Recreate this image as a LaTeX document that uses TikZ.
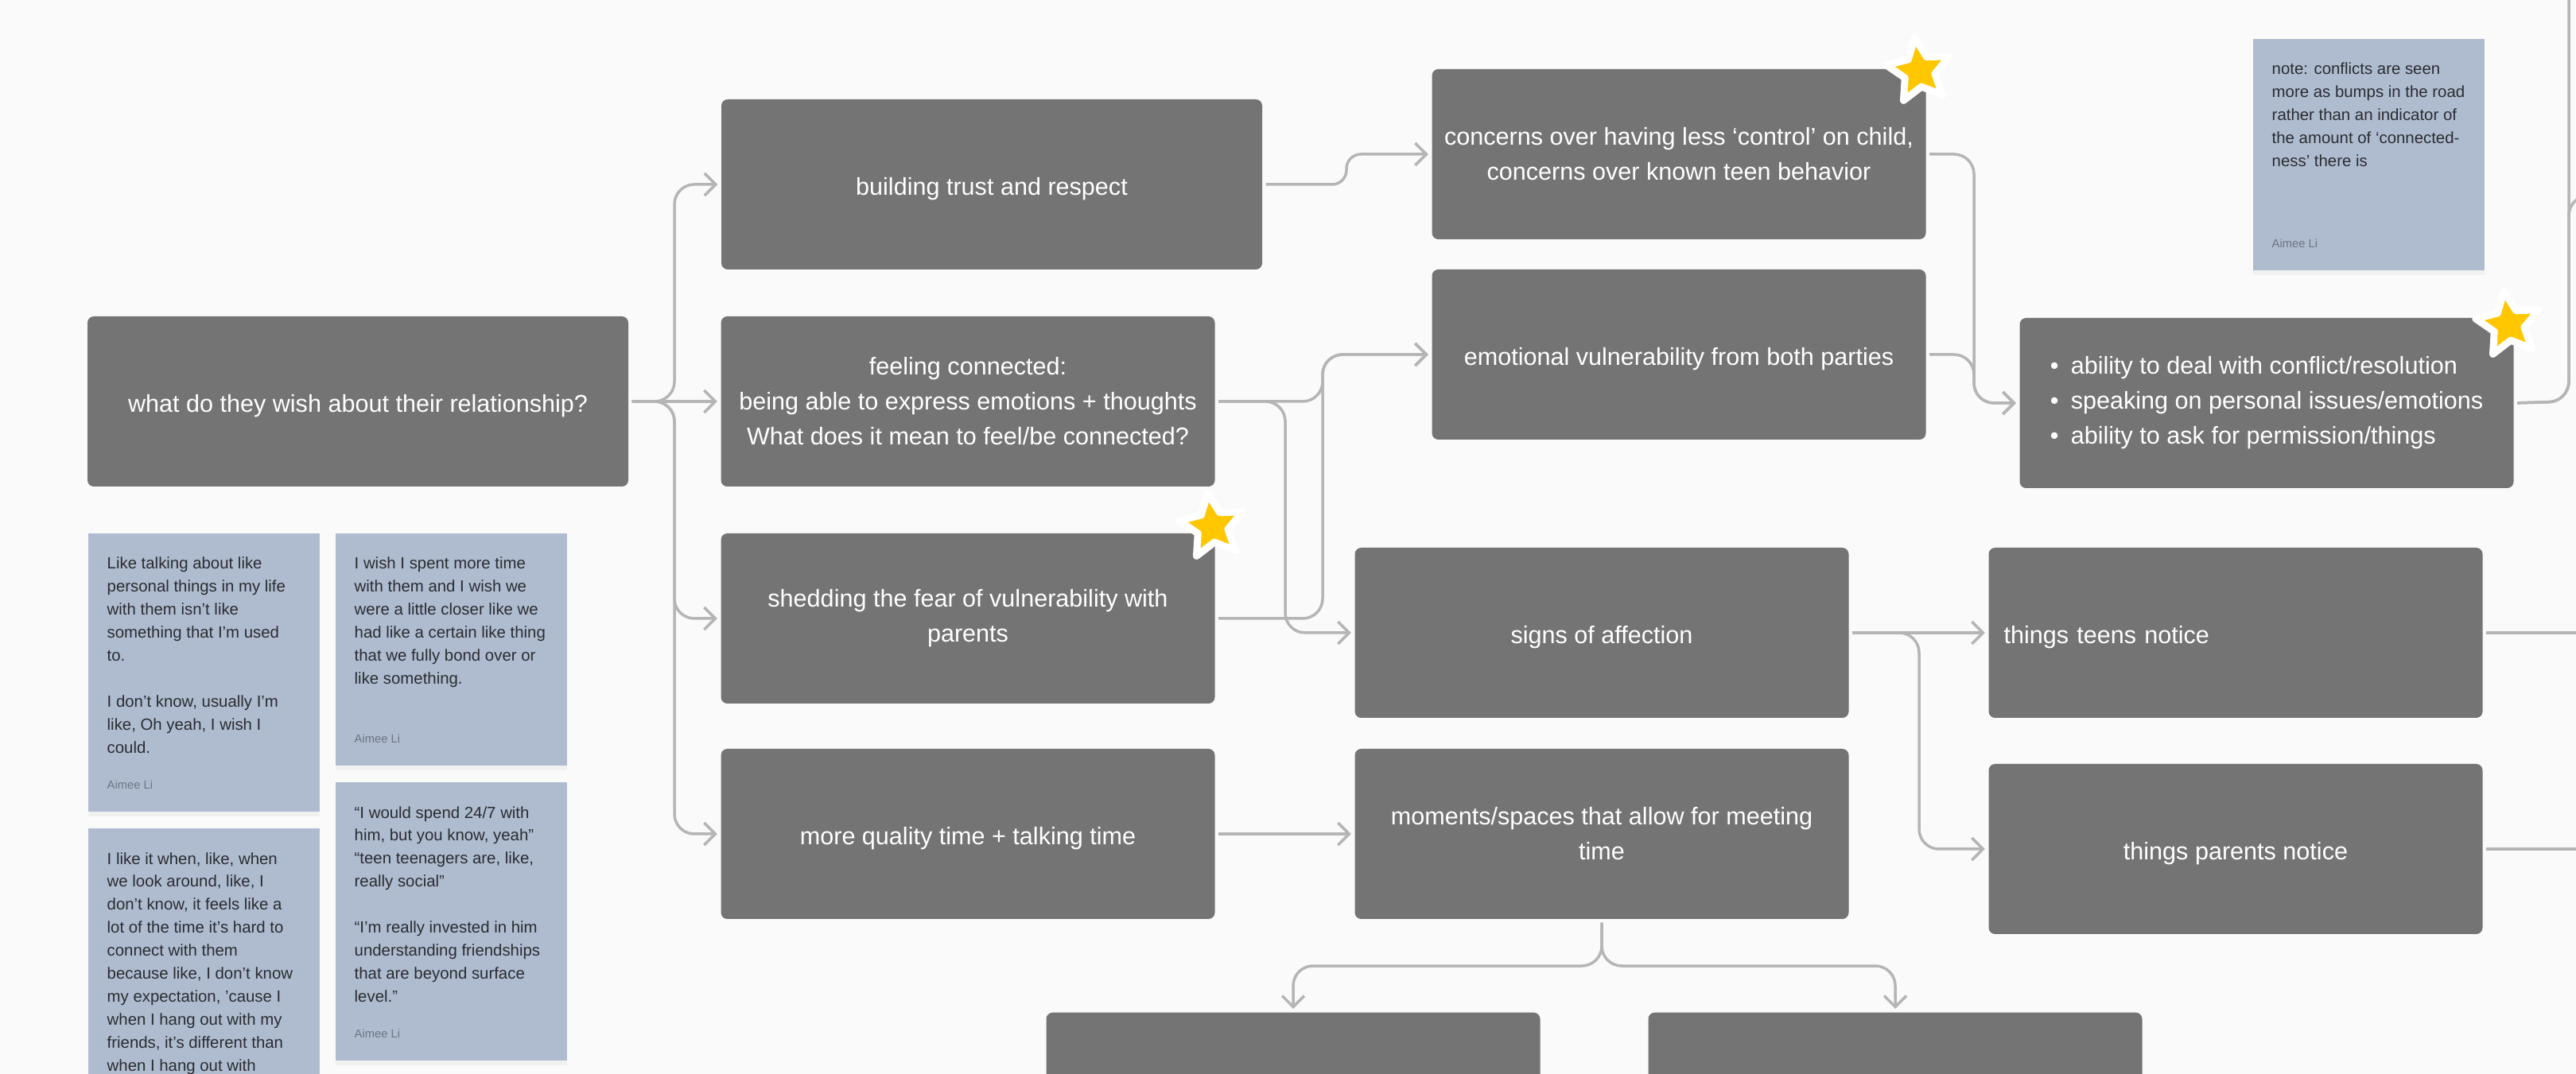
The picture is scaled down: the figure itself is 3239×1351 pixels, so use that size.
\documentclass[tikz,border=0pt]{standalone}
\usepackage{fontspec}
\setmainfont{Liberation Sans}
\usetikzlibrary{arrows.meta,shapes.geometric,shadows}

\begin{document}
\begin{tikzpicture}[x=0.1mm, y=-0.1mm,
  card/.style={fill=cardgray, rounded corners=0.8mm, minimum width=62.1mm, minimum height=21.4mm, inner sep=0pt, text=white, align=center, font=\fontsize{8.7}{12.5}\selectfont},
  widecard/.style={card, minimum width=68mm},
  oneline/.style={text height=9.4pt, text depth=1.8pt},
  sticky/.style={fill=stickyblue, anchor=north west, minimum width=29.1mm, inner sep=0pt, drop shadow={opacity=0.07, shadow xshift=0mm, shadow yshift=-0.6mm}},
  quote/.style={anchor=north west, align=left, inner sep=0pt, text=ink, font=\fontsize{5.8}{8.25}\selectfont},
  author/.style={anchor=base west, inner sep=0pt, text=authorgray, font=\fontsize{4.2}{5}\selectfont},
  badge/.style={star, star points=5, star point ratio=2.1, minimum size=8.4mm, inner sep=0pt, fill=staryellow, draw=white, line width=0.9mm, line join=round, rotate=8},
  link/.style={draw=linkgray, line width=0.35mm, rounded corners=2.5mm, shorten <=0.4mm, shorten >=0.4mm, -{Straight Barb[length=1.4mm,width=2.8mm]}},
  bare/.style={draw=linkgray, line width=0.35mm, rounded corners=2.5mm, shorten <=0.4mm},
]
  \definecolor{canvas}{HTML}{FAFAFA}
  \definecolor{cardgray}{HTML}{747474}
  \definecolor{stickyblue}{HTML}{AFBCD0}
  \definecolor{ink}{HTML}{2A2C30}
  \definecolor{authorgray}{HTML}{6E7585}
  \definecolor{linkgray}{HTML}{B5B5B5}
  \definecolor{staryellow}{HTML}{FFC700}
  \useasboundingbox (0,0) rectangle (3239,1351);
  \clip (0,0) rectangle (3239,1351);
  \fill[canvas] (0,0) rectangle (3239,1351);

  \node[widecard, oneline] (root) at (450,505) {what do they wish about their relationship?};
  \node[widecard, oneline] (trust) at (1247,232) {building trust and respect};
  \node[card] (feeling) at (1217,505) {feeling connected:\\being able to express emotions + thoughts\\What does it mean to feel/be connected?};
  \node[card] (shedding) at (1217,778) {shedding the fear of vulnerability with\\parents};
  \node[card, oneline] (quality) at (1217,1049) {more quality time + talking time};
  \node[card] (concerns) at (2111,194) {concerns over having less ‘control’ on child,\\concerns over known teen behavior};
  \node[card, oneline] (emotional) at (2111,446) {emotional vulnerability from both parties};
  \node[card, oneline] (signs) at (2014,796) {signs of affection};
  \node[card] (moments) at (2014,1049) {moments/spaces that allow for meeting\\time};
  \node[card, align=left] (ability) at (2850,507) {\makebox[2.6mm][l]{•}ability to deal with conflict/resolution\\\makebox[2.6mm][l]{•}speaking on personal issues/emotions\\\makebox[2.6mm][l]{•}ability to ask for permission/things};
  \node[card, oneline, align=left, text width=58.3mm] (teens) at (2811,796) {things teens notice};
  \node[card, oneline] (parents) at (2811,1068) {things parents notice};
  \node[card, anchor=north] (meetleft) at (1626,1273) {};
  \node[card, anchor=north] (meetright) at (2383,1273) {};

  \node[badge] (starconcerns) at ([xshift=-0.9mm,yshift=-0.3mm]concerns.north east) {};
  \node[badge] (starshedding) at ([xshift=-0.4mm,yshift=0.8mm]shedding.north east) {};
  \node[badge] (starability) at ([xshift=-0.7mm,yshift=-0.9mm]ability.north east) {};

  \coordinate (rootfork) at (848,505);
  \coordinate (trustbend) at (1693,232);
  \coordinate (vulnjoin) at (1663,505);
  \coordinate (affectdrop) at (1616,505);
  \coordinate (abilityjoin) at (2482,505);
  \coordinate (noticedrop) at (2413,796);
  \coordinate (meetfork) at (2014,1215);
  \coordinate (abilityout) at (3230,505);
  \coordinate (topexit) at (3230,-30);
  \coordinate (sideexit) at (3290,246);

  \draw[link] (root.east) -- (rootfork) |- (trust.west);
  \draw[link] (root.east) -- (feeling.west);
  \draw[link] (root.east) -- (rootfork) |- (shedding.west);
  \draw[link] (root.east) -- (rootfork) |- (quality.west);
  \draw[link, rounded corners=1.8mm] (trust.east) -- (trustbend) |- (concerns.west);
  \draw[link] (feeling.east) -- (vulnjoin) |- (emotional.west);
  \draw[link] (feeling.east) -- (affectdrop) |- (signs.west);
  \draw[link] (shedding.east) -- (vulnjoin |- shedding.east) |- (emotional.west);
  \draw[link] (quality.east) -- (moments.west);
  \draw[link] (concerns.east) -- (abilityjoin |- concerns.east) |- (ability.west);
  \draw[link] (emotional.east) -- (abilityjoin |- emotional.east) |- (ability.west);
  \draw[link] (signs.east) -- (teens.west);
  \draw[link] (signs.east) -- (noticedrop) |- (parents.west);
  \draw[link] (moments.south) -- (meetfork) -| (meetleft.north);
  \draw[link] (moments.south) -- (meetfork) -| (meetright.north);
  \draw[bare] (ability.east) -- (abilityout) -- (topexit);
  \draw[bare] (ability.east) -- (abilityout) |- (sideexit);
  \draw[bare] (teens.east) -- (teens.east -| sideexit);
  \draw[bare] (parents.east) -- (parents.east -| sideexit);

  \node[sticky, minimum height=35mm] (noteA) at (110,670) {};
  \node[quote] (quoteA) at ([shift={(24,25)}]noteA.north west) {\strut Like talking about like\\personal things in my life\\with them isn't like\\something that I'm used\\to.\\[8.25pt]I don't know, usually I'm\\like, Oh yeah, I wish I\\could.};
  \node[author] (authorA) at ([shift={(24,-29)}]noteA.south west) {Aimee Li};

  \node[sticky, minimum height=29.2mm] (noteB) at (421,670) {};
  \node[quote] (quoteB) at ([shift={(24,25)}]noteB.north west) {\strut I wish I spent more time\\with them and I wish we\\were a little closer like we\\had like a certain like thing\\that we fully bond over or\\like something.};
  \node[author] (authorB) at ([shift={(24,-29)}]noteB.south west) {Aimee Li};

  \node[sticky, minimum height=36mm] (noteC) at (110,1041) {};
  \node[quote] (quoteC) at ([shift={(24,25)}]noteC.north west) {\strut I like it when, like, when\\we look around, like, I\\don't know, it feels like a\\lot of the time it's hard to\\connect with them\\because like, I don't know\\my expectation, 'cause I\\when I hang out with my\\friends, it's different than\\when I hang out with};

  \node[sticky, minimum height=35mm] (noteD) at (421,983) {};
  \node[quote] (quoteD) at ([shift={(24,25)}]noteD.north west) {\strut “I would spend 24/7 with\\him, but you know, yeah”\\“teen teenagers are, like,\\really social”\\[8.25pt]“I'm really invested in him\\understanding friendships\\that are beyond surface\\level.”};
  \node[author] (authorD) at ([shift={(24,-29)}]noteD.south west) {Aimee Li};

  \node[sticky, minimum height=29.1mm] (noteE) at (2832,48) {};
  \node[quote] (quoteE) at ([shift={(24,25)}]noteE.north west) {\strut note: conflicts are seen\\more as bumps in the road\\rather than an indicator of\\the amount of ‘connected-\\ness’ there is};
  \node[author] (authorE) at ([shift={(24,-29)}]noteE.south west) {Aimee Li};
\end{tikzpicture}
\end{document}
